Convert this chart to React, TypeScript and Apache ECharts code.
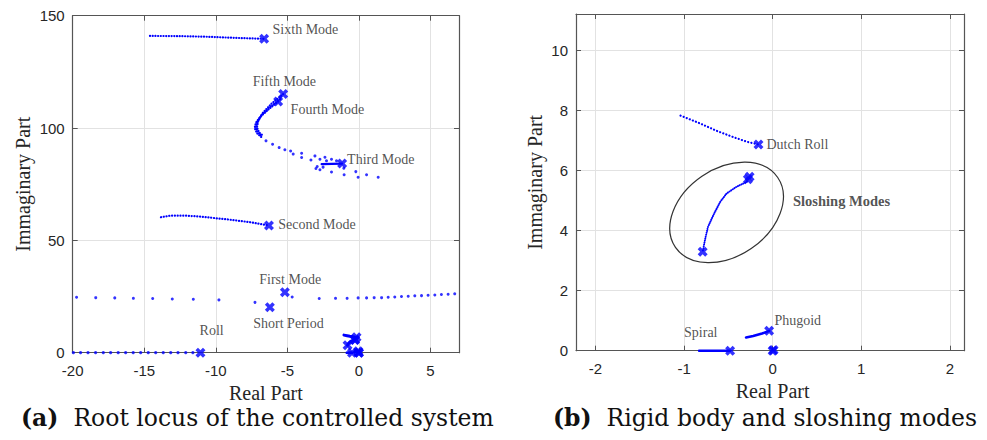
import React, { useEffect, useRef } from 'react';
import * as echarts from 'echarts';

// ---------- (a) Root locus of the controlled system ----------
const sixthModeLocus = [[-14.6, 141.0], [-12.5, 140.9], [-10.5, 140.6], [-8.5, 140.1], [-6.62, 139.7]];
const fifthModeLocus = [[-5.29, 115.1], [-6.1, 110.9], [-6.75, 106.5], [-7.05, 102.8], [-7.12, 100.3], [-6.98, 98.1], [-6.7, 96.6]];
const fourthModeLocus = [[-5.64, 111.8], [-6.3, 108.4], [-6.9, 104.9], [-7.2, 102.3], [-7.28, 100.0], [-7.12, 97.7], [-6.82, 96.0]];
const midModeLocus = [[-5.5, 112.8], [-6.2, 109.3], [-6.82, 105.6], [-7.13, 102.5], [-7.2, 100.1], [-7.05, 97.9], [-6.76, 96.3]];
const thirdModeLocus = [[-2.6, 83.9], [-1.17, 84.2]];
const upperModeDots = [
  [-6.49, 94.3], [-6.03, 92.8], [-5.57, 91.3], [-5.17, 90.3], [-4.77, 89.8], [-4.59, 88.4],
  [-4.0, 88.8], [-4.0, 86.9], [-3.35, 85.8], [-3.07, 87.6], [-2.91, 82.9], [-2.72, 86.1],
  [-2.37, 87.0], [-2.26, 85.4], [-1.91, 86.1], [-1.56, 85.4], [-2.72, 81.4], [-1.91, 80.4],
  [-1.03, 79.2], [-0.21, 80.6], [-0.05, 78.1], [0.54, 79.2], [1.35, 78.1], [-1.05, 82.1],
  [-3.0, 82.0], [-2.5, 82.6],
];
const secondModeLocus = [[-13.83, 60.3], [-13.2, 61.0], [-12.15, 61.0], [-11.1, 60.6], [-9.0, 59.2], [-7.61, 58.1], [-6.28, 56.6]];
const firstModeDots = [
  [-19.73, 24.7], [-18.39, 24.5], [-17.06, 24.4], [-15.76, 24.2], [-14.41, 24.1], [-13.04, 23.9],
  [-11.57, 23.8], [-9.78, 23.5], [-7.26, 22.4], [-4.66, 24.8], [-2.77, 24.1], [-1.63, 24.2],
  [-0.82, 24.2], [-0.05, 24.4], [0.54, 24.4], [1.07, 24.5], [1.59, 24.5], [2.05, 24.7],
  [2.51, 24.8], [2.98, 25.0], [3.45, 25.1], [3.91, 25.3], [4.38, 25.4], [4.84, 25.6],
  [5.31, 25.7], [5.77, 25.9], [6.24, 26.0], [6.7, 26.2],
];
const rollDots = [
  [-19.95, 0], [-19.45, 0], [-18.93, 0], [-18.4, 0], [-17.86, 0], [-17.35, 0], [-16.82, 0],
  [-16.3, 0], [-15.77, 0], [-15.25, 0], [-14.72, 0], [-14.2, 0], [-13.67, 0], [-13.15, 0],
  [-12.64, 0], [-12.1, 0], [-11.6, 0],
];
const leftPoles = [
  [-6.62, 139.7], [-5.29, 115.1], [-5.64, 111.8], [-1.17, 84.2], [-6.28, 56.6],
  [-5.17, 26.9], [-6.22, 20.2], [-11.07, 0],
];
const leftLabels = [
  { name: 'Sixth Mode', value: [-6.03, 143.7] },
  { name: 'Fifth Mode', value: [-7.42, 120.7] },
  { name: 'Fourth Mode', value: [-4.77, 108.1] },
  { name: 'Third Mode', value: [-0.82, 86.1] },
  { name: 'Second Mode', value: [-5.63, 57.2] },
  { name: 'First Mode', value: [-6.96, 32.4] },
  { name: 'Short Period', value: [-7.38, 12.8] },
  { name: 'Roll', value: [-11.13, 9.8] },
];

// ---------- (b) Rigid body and sloshing modes ----------
const dutchRollLocus = [[-1.04, 7.82], [-0.82, 7.56], [-0.63, 7.31], [-0.44, 7.1], [-0.29, 6.95], [-0.16, 6.86]];
const sloshingLocus = [[-0.29, 5.62], [-0.41, 5.45], [-0.52, 5.23], [-0.59, 4.96], [-0.66, 4.57], [-0.73, 4.12], [-0.76, 3.74], [-0.79, 3.29]];
const phugoidLocus = [[-0.3, 0.44], [-0.22, 0.49], [-0.12, 0.57], [-0.04, 0.66]];
const spiralLocus = [[-0.83, 0], [-0.48, 0]];
const rigidPoles = [[-0.16, 6.86], [-0.26, 5.79], [-0.28, 5.7], [-0.79, 3.29], [-0.04, 0.66], [-0.48, 0], [0, 0], [0.01, 0.02]];
const rightLabels = [
  { name: 'Dutch Roll', value: [-0.07, 6.86] },
  { name: 'Phugoid', value: [0.02, 1.02] },
  { name: 'Spiral', value: [-1.0, 0.61] },
];
const boldLabels = [{ name: 'Sloshing Modes', value: [0.23, 4.99] }];
const ellipseCenter = [-0.52, 4.6];

// axis ranges / ticks
const leftX = { min: -20, max: 7, interval: 5 };
const leftY = { min: 0, max: 150, interval: 50 };
const rightXView = { min: -2.22, max: 2.16 };
const rightXTicks = { min: -2, max: 2, interval: 1 };
const rightY = { min: 0, max: 11.2, interval: 2 };

const BLUE = '#0000ff';
const AXIS = '#555555';
const TXT = '#262626';
const X_SYMBOL = 'path://M0,2.5 L2.5,0 L5,2.5 L7.5,0 L10,2.5 L7.5,5 L10,7.5 L7.5,10 L5,7.5 L2.5,10 L0,7.5 L2.5,5 Z';

// grid geometry
const G_LEFT = { left: 72.7, top: 15.7, width: 386.3, height: 337 };
const G_RIGHT = { left: 576, top: 14, width: 388, height: 336.7 };
const rPxPerUnit = G_RIGHT.width / (rightXView.max - rightXView.min);
const G_RIGHT_TICKS = {
  left: G_RIGHT.left + (rightXTicks.min - rightXView.min) * rPxPerUnit,
  top: G_RIGHT.top,
  width: (rightXTicks.max - rightXTicks.min) * rPxPerUnit,
  height: G_RIGHT.height,
};

function axisBase(range: any, gridIndex: number, position: string, labels: boolean, extra: any = {}) {
  return {
    type: 'value',
    gridIndex,
    position,
    min: range.min,
    max: range.max,
    interval: range.interval,
    axisLine: { show: true, onZero: false, lineStyle: { color: AXIS, width: 1.2 } },
    axisTick: { show: true, inside: true, length: 5, lineStyle: { color: AXIS, width: 1 } },
    axisLabel: {
      show: labels,
      color: TXT,
      fontFamily: 'Liberation Sans',
      fontSize: 15,
      showMaxLabel: false,
      ...(extra.axisLabel || {}),
    },
    splitLine: { show: labels, lineStyle: { color: '#e2e2e2', width: 1 } },
    nameTextStyle: { fontFamily: 'Liberation Serif', fontSize: 20, color: TXT },
    ...(extra.rest || {}),
  };
}

function dottedLine(data: number[][], idx: number, width = 2, dash: any = [0.1, 2.6]) {
  return {
    type: 'line', xAxisIndex: idx, yAxisIndex: idx, data, symbol: 'none', silent: true,
    lineStyle: { color: BLUE, width, type: dash, cap: 'round' }, z: 3,
  };
}
function solidLine(data: number[][], idx: number, width = 2.5) {
  return {
    type: 'line', xAxisIndex: idx, yAxisIndex: idx, data, symbol: 'none', silent: true,
    lineStyle: { color: BLUE, width, type: 'solid', cap: 'round' }, z: 3,
  };
}
function dots(data: number[][], idx: number, size = 3) {
  return {
    type: 'scatter', xAxisIndex: idx, yAxisIndex: idx, data, symbol: 'circle', symbolSize: size,
    itemStyle: { color: BLUE }, silent: true, z: 3,
  };
}
function poles(data: number[][], idx: number, size = 10) {
  return {
    type: 'scatter', xAxisIndex: idx, yAxisIndex: idx, data, symbol: X_SYMBOL, symbolSize: size,
    itemStyle: { color: BLUE }, silent: true, z: 4,
  };
}
function labels(data: any[], idx: number, bold = false, size = 14) {
  return {
    type: 'scatter', xAxisIndex: idx, yAxisIndex: idx, data, symbolSize: 0, silent: true, z: 5,
    itemStyle: { color: 'rgba(0,0,0,0)' },
    label: {
      show: true, position: 'right', distance: 0, formatter: '{b}',
      fontFamily: 'Liberation Serif', fontSize: size, color: TXT, fontWeight: bold ? 'bold' : 'normal',
    },
  };
}

export default function App() {
  const ref = useRef<HTMLDivElement>(null);
  useEffect(() => {
    if (!ref.current) return;
    const chart = echarts.init(ref.current, null, { renderer: 'svg', width: 987, height: 440 });
    const hidden = { show: false };
    const option: any = {
      animation: false,
      backgroundColor: '#ffffff',
      grid: [
        { ...G_LEFT, containLabel: false },
        { ...G_RIGHT, containLabel: false },
        { ...G_RIGHT_TICKS, containLabel: false },
      ],
      xAxis: [
        axisBase(leftX, 0, 'bottom', true, {
          rest: { name: 'Real Part', nameLocation: 'middle', nameGap: 29 },
          axisLabel: { margin: 10 },
        }),
        axisBase(leftX, 0, 'top', false),
        // right plot: data axis (box only)
        {
          type: 'value', gridIndex: 1, position: 'bottom', min: rightXView.min, max: rightXView.max,
          axisLine: { show: true, onZero: false, lineStyle: { color: AXIS, width: 1.2 } },
          axisTick: hidden, axisLabel: hidden, splitLine: hidden,
        },
        {
          type: 'value', gridIndex: 1, position: 'top', min: rightXView.min, max: rightXView.max,
          axisLine: { show: true, onZero: false, lineStyle: { color: AXIS, width: 1.2 } },
          axisTick: hidden, axisLabel: hidden, splitLine: hidden,
        },
        // right plot: tick axes spanning -2..2
        {
          type: 'value', gridIndex: 2, position: 'bottom', min: rightXTicks.min, max: rightXTicks.max,
          interval: rightXTicks.interval,
          axisLine: { show: false, onZero: false },
          axisTick: { show: true, inside: true, length: 5, lineStyle: { color: AXIS, width: 1 } },
          axisLabel: { show: true, color: TXT, fontFamily: 'Liberation Sans', fontSize: 15, margin: 10 },
          splitLine: { show: true, lineStyle: { color: '#e2e2e2', width: 1 } },
          name: 'Real Part', nameLocation: 'middle', nameGap: 29,
          nameTextStyle: { fontFamily: 'Liberation Serif', fontSize: 20, color: TXT },
        },
        {
          type: 'value', gridIndex: 2, position: 'top', min: rightXTicks.min, max: rightXTicks.max,
          interval: rightXTicks.interval,
          axisLine: { show: false, onZero: false },
          axisTick: { show: true, inside: true, length: 5, lineStyle: { color: AXIS, width: 1 } },
          axisLabel: hidden, splitLine: hidden,
        },
      ],
      yAxis: [
        axisBase(leftY, 0, 'left', true, {
          rest: { name: 'Immaginary Part', nameLocation: 'middle', nameGap: 40 },
          axisLabel: { margin: 8, showMaxLabel: true },
        }),
        axisBase(leftY, 0, 'right', false),
        axisBase(rightY, 1, 'left', true, {
          rest: { name: 'Immaginary Part', nameLocation: 'middle', nameGap: 31 },
          axisLabel: { margin: 8 },
        }),
        axisBase(rightY, 1, 'right', false),
        { type: 'value', gridIndex: 2, min: rightY.min, max: rightY.max, show: false },
      ],
      series: [
        // left plot
        dottedLine(sixthModeLocus, 0, 2.2, [0.1, 2.6]),
        dottedLine(fifthModeLocus, 0, 2.2, [0.1, 2.4]),
        dottedLine(midModeLocus, 0, 2.2, [0.1, 2.4]),
        dottedLine(fourthModeLocus, 0, 2.2, [0.1, 2.4]),
        dots(upperModeDots, 0, 3),
        solidLine(thirdModeLocus, 0, 2.2),
        dottedLine(secondModeLocus, 0, 2.2, [0.1, 2.7]),
        dots(firstModeDots, 0, 3),
        dots(rollDots, 0, 3.2),
        solidLine(dutchRollLocus, 0, 3),
        solidLine(sloshingLocus, 0, 3),
        solidLine(phugoidLocus, 0, 3),
        solidLine(spiralLocus, 0, 3),
        poles(leftPoles, 0, 10),
        poles(rigidPoles, 0, 10),
        labels(leftLabels, 0),
        // right plot (xAxis 2 / yAxis 2)
        dottedLine(dutchRollLocus, 2, 2.2, [0.1, 3.2]),
        dottedLine(sloshingLocus, 2, 2, [0.1, 1.9]),
        solidLine(phugoidLocus, 2, 2.6),
        solidLine(spiralLocus, 2, 2.6),
        poles(rigidPoles, 2, 10),
        labels(rightLabels, 2),
        labels(boldLabels, 2, true, 14.5),
      ],
    };
    chart.setOption(option);

    const c = chart.convertToPixel({ xAxisIndex: 2, yAxisIndex: 2 } as any, ellipseCenter) as number[];
    chart.setOption({
      graphic: [
        {
          id: 'slosh-ellipse', type: 'ellipse', x: c[0], y: c[1], rotation: 0.599, silent: true, z: 2,
          shape: { cx: 0, cy: 0, rx: 61.9, ry: 43.7 },
          style: { fill: 'none', stroke: '#333333', lineWidth: 1.2 },
        },
        {
          id: 'cap-a', type: 'text', left: 21, top: 406, silent: true,
          style: {
            text: '{b|(a)}  Root locus of the controlled system',
            fontFamily: 'DejaVu Serif', fontSize: 23.5, fill: '#111111',
            rich: { b: { fontFamily: 'DejaVu Serif', fontSize: 23.5, fontWeight: 'bold', fill: '#111111' } },
          },
        },
        {
          id: 'cap-b', type: 'text', left: 553, top: 406, silent: true,
          style: {
            text: '{b|(b)}  Rigid body and sloshing modes',
            fontFamily: 'DejaVu Serif', fontSize: 23.5, fill: '#111111',
            rich: { b: { fontFamily: 'DejaVu Serif', fontSize: 23.5, fontWeight: 'bold', fill: '#111111' } },
          },
        },
      ],
    });
    return () => chart.dispose();
  }, []);
  return <div ref={ref} style={{ position: 'fixed', left: 0, top: 0, width: 987, height: 440, background: '#fff' }} />;
}
